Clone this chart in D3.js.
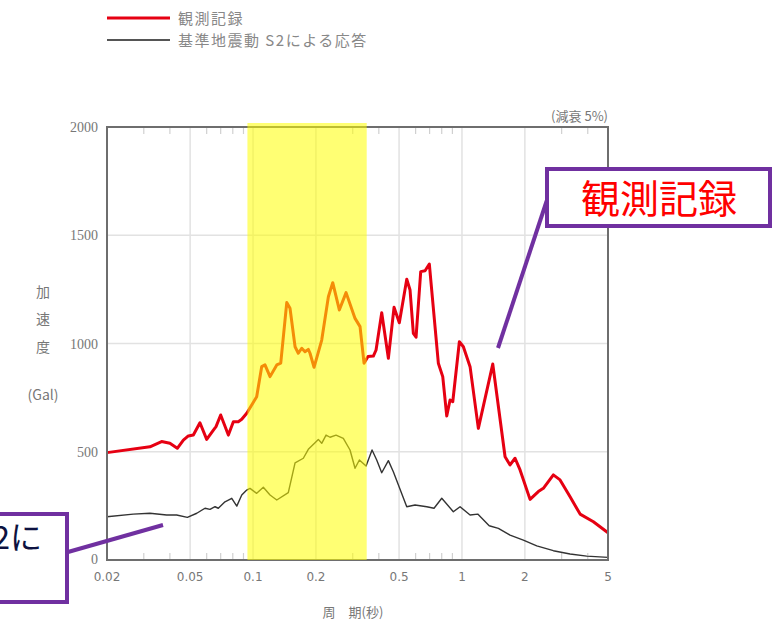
<!DOCTYPE html>
<html><head><meta charset="utf-8">
<script src="https://cdn.jsdelivr.net/npm/d3@7"></script>
<style>html,body{margin:0;padding:0;background:#fff;}svg{display:block;}</style>
</head><body>
<svg id="c" width="778" height="624"></svg>
<script>
// ---- data ----
const periodsObs = [0.02,0.0321,0.0365,0.040,0.0434,0.0464,0.049,0.0518,0.0557,0.060,0.0646,0.0665,0.070,0.0762,0.0805,0.085,0.0883,0.0933,0.1041,0.110,0.1141,0.1206,0.1299,0.1357,0.145,0.1503,0.1589,0.1647,0.171,0.1773,0.1839,0.1874,0.1959,0.2132,0.2294,0.2407,0.2588,0.2788,0.3078,0.3252,0.3398,0.355,0.3766,0.388,0.413,0.4444,0.473,0.5014,0.5442,0.5643,0.5852,0.603,0.6347,0.6657,0.698,0.7708,0.8091,0.8456,0.877,0.9036,0.9718,1.0156,1.0934,1.198,1.404,1.608,1.699,1.795,1.897,2.118,2.32,2.452,2.738,2.948,3.292,3.676,4.257,5.0];
const valuesObs = [496,523,547,539,516,554,573,577,634,557,600,616,670,577,639,639,650,678,754,893,901,847,901,909,1189,1163,985,955,978,962,973,955,890,1016,1216,1281,1155,1235,1116,1078,909,940,942,970,1142,932,1167,1096,1297,1247,1047,1029,1332,1336,1367,909,847,665,739,731,1008,985,893,608,905,477,439,470,416,280,316,331,393,370,292,212,177,126];
const periodsS2 = [0.02,0.0267,0.0321,0.0386,0.0431,0.0485,0.0538,0.0589,0.0622,0.0658,0.0682,0.0734,0.0791,0.0836,0.0883,0.0933,0.0967,0.1041,0.112,0.1206,0.1299,0.1475,0.1589,0.1741,0.1839,0.198,0.2053,0.2132,0.2236,0.2336,0.2496,0.2705,0.2912,0.3078,0.3228,0.3475,0.3712,0.3908,0.413,0.4444,0.4694,0.5442,0.5964,0.6784,0.735,0.8004,0.9094,0.9792,1.0934,1.19,1.35,1.494,1.699,1.967,2.28,2.738,3.292,3.956,5.0];
const valuesS2 = [200,212,216,208,208,197,216,239,234,246,239,269,285,249,300,323,331,308,336,300,277,311,449,470,511,542,557,539,577,567,577,562,508,424,462,434,508,462,403,459,408,246,254,246,239,285,223,246,208,212,158,146,115,92,65,43,28,18,12];
const xTickValues = [0.02,0.05,0.1,0.2,0.5,1,2,5];
const xTickLabels = ["0.02","0.05","0.1","0.2","0.5","1","2","5"];
const xMinorTicks = [0.03,0.04,0.06,0.07,0.08,0.09,0.3,0.4,0.6,0.7,0.8,0.9,3,4];
const yTickValues = [0,500,1000,1500,2000];
const bandRange = [0.094,0.35];
const legendLabels = ["観測記録","基準地震動 S2による応答"];
const yTitleParts = ["加","速","度","(Gal)"];
const xTitle = "周　期(秒)";
const dampingNote = "(減衰 5%)";
const calloutObs = "観測記録";
const calloutS2 = "基準地震動S2に";

// ---- drawing ----
const svg = d3.select("#c");
const L=107,R=608,T=127,B=560;
const x = d3.scaleLog().domain([0.02,5]).range([L,R]);
const y = d3.scaleLinear().domain([0,2000]).range([B,T]);
const gray="#777", sans="'Noto Sans CJK JP','DejaVu Sans',sans-serif";

// grid
svg.append("g").selectAll("line").data([500,1000,1500]).join("line")
  .attr("x1",L).attr("x2",R).attr("y1",d=>y(d)).attr("y2",d=>y(d))
  .attr("stroke","#e2e2e2").attr("stroke-width",1.5);
svg.append("g").selectAll("line").data([0.05,0.1,0.2,0.5,1,2]).join("line")
  .attr("x1",d=>x(d)).attr("x2",d=>x(d)).attr("y1",T).attr("y2",B)
  .attr("stroke","#e2e2e2").attr("stroke-width",1.5);
// minor ticks top & bottom
const mt = svg.append("g").attr("stroke","#d0d0d0").attr("stroke-width",1.2);
mt.selectAll("line.t").data(xMinorTicks).join("line").attr("class","t")
  .attr("x1",d=>x(d)).attr("x2",d=>x(d)).attr("y1",T).attr("y2",T+7);
mt.selectAll("line.b").data(xMinorTicks).join("line").attr("class","b")
  .attr("x1",d=>x(d)).attr("x2",d=>x(d)).attr("y1",B-7).attr("y2",B);

// curves
const line = d3.line().x(d=>x(d[0])).y(d=>y(d[1]));
svg.append("path").datum(periodsS2.map((p,i)=>[p,valuesS2[i]]))
  .attr("d",line).attr("fill","none").attr("stroke","#333").attr("stroke-width",1.4).attr("stroke-linejoin","round");
svg.append("path").datum(periodsObs.map((p,i)=>[p,valuesObs[i]]))
  .attr("d",line).attr("fill","none").attr("stroke","#e60012").attr("stroke-width",3).attr("stroke-linejoin","round");

// frame
svg.append("rect").attr("x",L).attr("y",T).attr("width",R-L).attr("height",B-T)
  .attr("fill","none").attr("stroke","#6e6e6e").attr("stroke-width",2);

// highlight band
svg.append("rect").attr("x",x(bandRange[0])).attr("y",T-4)
  .attr("width",x(bandRange[1])-x(bandRange[0])).attr("height",B-T+4)
  .attr("fill","#ffff00").attr("opacity",0.55);

// axis labels
svg.append("g").selectAll("text").data(xTickValues).join("text")
  .attr("x",d=>x(d)).attr("y",581).attr("text-anchor","middle")
  .attr("font-family","'DejaVu Sans',sans-serif").attr("font-size",12).attr("fill",gray)
  .text((d,i)=>xTickLabels[i]);
svg.append("g").selectAll("text").data(yTickValues).join("text")
  .attr("x",98).attr("y",d=>y(d)+(d===0?4:5)).attr("text-anchor","end")
  .attr("font-family","'Liberation Serif',serif").attr("font-size",14).attr("fill",gray)
  .text(d=>d);
const yTitleY=[292,319,347,395];
svg.append("g").selectAll("text").data(yTitleParts).join("text")
  .attr("x",43).attr("y",(d,i)=>yTitleY[i]+5).attr("text-anchor","middle")
  .attr("font-family",sans).attr("font-size",14).attr("fill",gray).text(d=>d);
svg.append("text").attr("x",353).attr("y",617).attr("text-anchor","middle")
  .attr("font-family",sans).attr("font-size",13).attr("fill",gray).text(xTitle);
svg.append("text").attr("x",608).attr("y",121).attr("text-anchor","end")
  .attr("font-family",sans).attr("font-size",13).attr("fill",gray).text(dampingNote);

// legend
const lg = svg.append("g");
const lgColors=["#e60012","#555"], lgW=[3,2];
legendLabels.forEach((t,i)=>{
  const yy=18+i*22;
  lg.append("line").attr("x1",107).attr("x2",170).attr("y1",yy).attr("y2",yy)
    .attr("stroke",lgColors[i]).attr("stroke-width",lgW[i]);
  lg.append("text").attr("x",178).attr("y",yy+6).attr("font-family",sans)
    .attr("font-size",15).attr("letter-spacing",1.5).attr("fill","#888").text(t);
});

// callouts
const purple="#7030a0";
svg.append("line").attr("x1",547).attr("y1",200).attr("x2",498).attr("y2",348)
  .attr("stroke",purple).attr("stroke-width",4);
svg.append("rect").attr("x",547).attr("y",169).attr("width",223).attr("height",57)
  .attr("fill","#fff").attr("stroke",purple).attr("stroke-width",4);
svg.append("text").attr("x",659).attr("y",213).attr("text-anchor","middle")
  .attr("font-family",sans).attr("font-size",39).attr("fill","#ff0000").text(calloutObs);

svg.append("line").attr("x1",68).attr("y1",552).attr("x2",163).attr("y2",525)
  .attr("stroke",purple).attr("stroke-width",4);
svg.append("rect").attr("x",-20).attr("y",514).attr("width",87).attr("height",88)
  .attr("fill","#fff").attr("stroke",purple).attr("stroke-width",4);
svg.append("text").attr("x",42).attr("y",549).attr("text-anchor","end")
  .attr("font-family",sans).attr("font-size",32).attr("fill","#0d1240").text(calloutS2);
</script>
</body></html>
